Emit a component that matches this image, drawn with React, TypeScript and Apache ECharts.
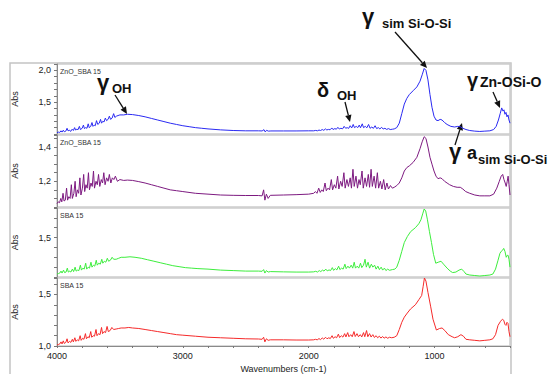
import React, { useEffect, useRef } from "react";
import * as echarts from "echarts";

// ---------- DATA ----------
const PANEL_TITLES = ["ZnO_SBA 15", "ZnO_SBA 15", "SBA 15", "SBA 15"];
const X_TICK_LABELS = [4000, 3000, 2000, 1000];
const Y_TICK_LABELS = [[1.5, 2.0], [1.2, 1.4], [1.5], [1.0, 1.5]];
const X_AXIS_NAME = "Wavenumbers (cm-1)";
const Y_AXIS_NAME = "Abs";

const ZNO_SBA15_BLUE: number[][] = [
  [4000,1.02],[3988,1.03],[3978,1.025],[3968,1.05],[3960,1.03],[3950,1.06],[3942,1.035],[3930,1.045],[3920,1.09],[3912,1.05],
  [3900,1.06],[3892,1.04],[3880,1.075],[3870,1.055],[3860,1.10],[3852,1.06],[3842,1.08],[3834,1.065],[3822,1.12],[3814,1.07],
  [3800,1.09],[3790,1.14],[3782,1.085],[3772,1.10],[3762,1.09],[3752,1.16],[3744,1.10],[3732,1.12],[3722,1.18],[3714,1.12],
  [3704,1.14],[3696,1.13],[3686,1.21],[3676,1.15],[3664,1.17],[3654,1.23],[3646,1.17],[3636,1.20],[3626,1.19],[3616,1.25],
  [3606,1.21],[3594,1.23],[3584,1.28],[3574,1.23],[3562,1.25],[3550,1.32],[3540,1.26],[3528,1.28],[3515,1.29],[3500,1.30],
  [3470,1.30],[3440,1.31],[3400,1.305],
  [3350,1.29],[3300,1.27],[3250,1.245],[3200,1.22],[3150,1.195],[3100,1.17],[3050,1.15],[3000,1.13],[2950,1.115],[2900,1.10],
  [2850,1.09],[2800,1.08],[2700,1.065],[2600,1.055],[2500,1.05],[2400,1.05],[2370,1.048],[2355,1.068],[2345,1.032],[2335,1.058],
  [2320,1.045],[2300,1.048],[2200,1.048],[2100,1.048],[2000,1.05],
  [1960,1.05],[1944,1.056],[1930,1.05],[1918,1.062],[1906,1.055],[1892,1.07],[1880,1.058],[1866,1.08],[1856,1.064],[1842,1.072],
  [1830,1.066],[1816,1.095],[1806,1.07],[1792,1.085],[1780,1.075],[1768,1.105],[1756,1.078],[1744,1.09],[1730,1.082],[1718,1.12],
  [1706,1.09],[1694,1.10],[1682,1.088],[1670,1.13],[1658,1.095],[1646,1.15],[1636,1.10],[1622,1.12],[1610,1.10],[1598,1.14],
  [1588,1.098],[1574,1.16],[1564,1.10],[1550,1.12],[1538,1.097],[1524,1.15],[1512,1.09],[1498,1.11],[1486,1.088],[1472,1.13],
  [1460,1.085],[1446,1.10],[1434,1.08],[1420,1.105],[1408,1.078],[1394,1.09],[1380,1.072],[1366,1.085],[1352,1.07],[1335,1.075],
  [1320,1.08],[1300,1.10],[1280,1.17],[1260,1.32],[1240,1.47],[1220,1.56],[1200,1.62],[1170,1.68],[1140,1.74],[1115,1.83],
  [1098,1.93],[1082,2.03],[1068,2.00],[1052,1.85],[1036,1.62],[1020,1.42],[1004,1.28],[988,1.22],[972,1.21],[955,1.23],
  [940,1.22],[920,1.18],[900,1.15],[870,1.12],[840,1.11],[815,1.12],[795,1.115],[775,1.09],[750,1.07],[720,1.055],
  [680,1.045],[640,1.04],[600,1.045],[560,1.05],[530,1.07],[510,1.12],[492,1.22],[478,1.32],[466,1.41],[456,1.36],
  [448,1.38],[440,1.31],[432,1.34],[424,1.27],[416,1.30],[408,1.22],[400,1.17]
];

const ZNO_SBA15_PURPLE: number[][] = [
  [4000,1.07],[3990,1.08],[3980,1.075],[3970,1.10],[3962,1.08],[3952,1.13],[3944,1.085],[3934,1.09],[3924,1.16],[3916,1.09],
  [3906,1.11],[3896,1.10],[3886,1.18],[3878,1.10],[3866,1.13],[3856,1.20],[3848,1.11],[3838,1.15],[3828,1.13],[3818,1.22],
  [3810,1.12],[3798,1.16],[3788,1.24],[3780,1.14],[3770,1.18],[3760,1.16],[3750,1.25],[3742,1.15],[3730,1.19],[3720,1.17],
  [3710,1.26],[3702,1.16],[3690,1.20],[3680,1.18],[3670,1.24],[3660,1.17],[3648,1.21],[3638,1.19],[3628,1.25],[3618,1.18],
  [3606,1.22],[3594,1.20],[3584,1.24],[3572,1.19],[3560,1.22],[3548,1.21],[3536,1.23],[3520,1.20],[3500,1.21],[3470,1.205],
  [3440,1.207],[3400,1.205],[3350,1.198],[3300,1.19],[3250,1.18],[3200,1.17],[3150,1.16],[3100,1.15],[3050,1.145],[3000,1.14],
  [2900,1.13],[2800,1.125],[2700,1.12],[2600,1.118],[2500,1.117],[2400,1.117],[2370,1.115],[2358,1.15],[2348,1.09],[2336,1.125],
  [2322,1.10],[2305,1.118],[2200,1.12],[2100,1.122],[2000,1.125],
  [1960,1.13],[1946,1.14],[1934,1.13],[1920,1.16],[1908,1.135],[1896,1.15],[1884,1.14],[1870,1.19],[1860,1.145],[1846,1.16],
  [1834,1.15],[1820,1.21],[1810,1.15],[1796,1.18],[1784,1.16],[1770,1.23],[1760,1.155],[1746,1.20],[1734,1.17],[1720,1.25],
  [1710,1.16],[1696,1.21],[1684,1.17],[1670,1.22],[1660,1.16],[1648,1.27],[1638,1.17],[1624,1.23],[1612,1.16],[1600,1.21],
  [1590,1.18],[1576,1.26],[1566,1.16],[1552,1.22],[1540,1.17],[1526,1.24],[1516,1.165],[1504,1.27],[1494,1.17],[1480,1.23],
  [1468,1.16],[1454,1.25],[1444,1.16],[1430,1.20],[1418,1.155],[1404,1.21],[1392,1.15],[1378,1.19],[1366,1.155],[1350,1.175],
  [1335,1.16],
  [1320,1.165],[1300,1.175],[1280,1.19],[1260,1.22],[1240,1.26],[1220,1.28],[1200,1.29],[1170,1.31],[1140,1.34],[1115,1.39],
  [1098,1.43],[1082,1.46],[1068,1.45],[1052,1.40],[1036,1.34],[1020,1.30],[1004,1.26],[988,1.23],[972,1.215],[955,1.22],
  [940,1.215],[920,1.20],[900,1.19],[880,1.18],[850,1.17],[820,1.165],[795,1.165],[775,1.155],[752,1.14],[720,1.13],
  [680,1.12],[640,1.115],[600,1.115],[560,1.115],[530,1.125],[505,1.16],[485,1.20],[470,1.23],[458,1.24],[448,1.21],
  [438,1.19],[430,1.17],[422,1.20],[415,1.23],[408,1.18],[400,1.12]
];

const SBA15_GREEN: number[][] = [
  [4000,1.13],[3988,1.135],[3978,1.14],[3968,1.16],[3960,1.14],[3948,1.17],[3940,1.145],[3928,1.15],[3918,1.19],[3910,1.15],
  [3898,1.16],[3890,1.15],[3878,1.18],[3868,1.155],[3856,1.20],[3848,1.16],[3836,1.17],[3826,1.165],[3814,1.22],[3806,1.17],
  [3794,1.19],[3784,1.18],[3772,1.24],[3764,1.18],[3752,1.20],[3742,1.19],[3730,1.25],[3722,1.20],[3710,1.22],[3700,1.21],
  [3688,1.27],[3680,1.22],[3668,1.24],[3656,1.23],[3644,1.28],[3636,1.24],[3624,1.26],[3612,1.25],[3600,1.29],[3590,1.26],
  [3576,1.27],[3562,1.30],[3550,1.28],[3530,1.28],[3510,1.29],[3490,1.30],[3460,1.30],[3420,1.305],[3380,1.30],
  [3330,1.29],[3280,1.275],[3230,1.26],[3180,1.245],[3130,1.23],[3080,1.215],[3030,1.205],[2980,1.195],[2930,1.19],[2880,1.185],
  [2800,1.18],[2700,1.17],[2600,1.165],[2500,1.16],[2400,1.16],[2370,1.158],[2358,1.175],[2348,1.14],[2336,1.165],[2322,1.15],
  [2305,1.155],[2200,1.152],[2100,1.15],[2000,1.15],
  [1960,1.152],[1944,1.158],[1930,1.15],[1916,1.165],[1904,1.155],[1890,1.17],[1878,1.16],[1864,1.18],[1852,1.162],[1838,1.172],
  [1826,1.165],[1812,1.195],[1802,1.168],[1788,1.185],[1776,1.172],[1762,1.21],[1752,1.175],[1738,1.19],[1726,1.18],[1712,1.23],
  [1702,1.185],[1688,1.21],[1676,1.19],[1662,1.22],[1650,1.19],[1638,1.25],[1628,1.19],[1614,1.21],[1602,1.19],[1588,1.24],
  [1578,1.195],[1564,1.22],[1552,1.28],[1542,1.20],[1528,1.25],[1516,1.19],[1502,1.23],[1490,1.20],[1476,1.22],[1464,1.18],
  [1450,1.21],[1438,1.175],[1424,1.20],[1412,1.17],[1398,1.19],[1386,1.165],[1372,1.18],[1358,1.168],[1335,1.175],
  [1315,1.18],[1300,1.20],[1280,1.27],[1260,1.36],[1240,1.45],[1216,1.51],[1190,1.56],[1152,1.60],[1125,1.64],[1108,1.68],
  [1094,1.74],[1082,1.79],[1070,1.77],[1056,1.68],[1040,1.56],[1024,1.45],[1008,1.33],[990,1.24],[970,1.25],[948,1.26],
  [928,1.23],[900,1.19],[875,1.16],[856,1.145],[830,1.15],[805,1.17],[784,1.18],[765,1.155],[750,1.13],[720,1.12],
  [680,1.115],[640,1.11],[600,1.115],[560,1.12],[536,1.13],[515,1.18],[495,1.27],[480,1.34],[470,1.36],[460,1.37],
  [450,1.39],[440,1.36],[430,1.30],[422,1.32],[415,1.32],[408,1.28],[400,1.20]
];

const SBA15_RED: number[][] = [
  [4000,1.01],[3988,1.015],[3978,1.02],[3968,1.04],[3960,1.02],[3950,1.05],[3942,1.025],[3930,1.035],[3920,1.07],[3912,1.03],
  [3900,1.045],[3890,1.035],[3878,1.065],[3870,1.04],[3858,1.08],[3850,1.045],[3838,1.06],[3828,1.05],[3816,1.10],[3808,1.055],
  [3796,1.075],[3786,1.065],[3774,1.12],[3766,1.07],[3754,1.09],[3744,1.08],[3732,1.14],[3724,1.085],[3712,1.10],[3702,1.095],
  [3690,1.16],[3682,1.10],[3670,1.12],[3658,1.11],[3646,1.18],[3638,1.12],[3626,1.14],[3614,1.13],[3602,1.19],[3592,1.14],
  [3578,1.15],[3564,1.18],[3550,1.16],[3530,1.165],[3510,1.17],[3490,1.175],[3460,1.175],[3430,1.18],[3400,1.175],
  [3350,1.17],[3300,1.16],[3250,1.15],[3200,1.14],[3150,1.13],[3100,1.12],[3050,1.11],[3000,1.105],[2900,1.095],[2800,1.085],
  [2700,1.08],[2600,1.075],[2500,1.07],[2400,1.068],[2370,1.065],[2358,1.085],[2348,1.04],[2336,1.07],[2322,1.055],[2305,1.06],
  [2200,1.06],[2100,1.058],[2000,1.058],
  [1960,1.06],[1946,1.065],[1932,1.06],[1918,1.072],[1906,1.062],[1892,1.078],[1880,1.066],[1866,1.085],[1854,1.07],[1840,1.08],
  [1828,1.072],[1814,1.10],[1804,1.075],[1790,1.09],[1778,1.08],[1764,1.115],[1754,1.082],[1740,1.10],[1728,1.086],[1714,1.12],
  [1704,1.088],[1690,1.13],[1680,1.09],[1666,1.11],[1654,1.09],[1640,1.14],[1630,1.092],[1616,1.12],[1604,1.09],[1590,1.11],
  [1578,1.088],[1564,1.13],[1554,1.09],[1540,1.15],[1530,1.09],[1516,1.12],[1504,1.087],[1490,1.11],[1478,1.083],[1464,1.10],
  [1452,1.08],[1438,1.095],[1426,1.077],[1412,1.092],[1400,1.076],[1386,1.088],[1372,1.075],[1358,1.085],[1340,1.08],
  [1320,1.085],[1300,1.10],[1280,1.16],[1260,1.23],[1240,1.28],[1216,1.32],[1190,1.36],[1152,1.40],[1124,1.45],[1102,1.49],
  [1090,1.58],[1080,1.66],[1068,1.63],[1052,1.52],[1030,1.38],[1012,1.26],[985,1.155],[960,1.17],[940,1.175],[918,1.15],
  [890,1.11],[860,1.09],[840,1.08],[815,1.09],[790,1.11],[770,1.095],[750,1.065],[720,1.06],[680,1.055],[640,1.05],
  [600,1.055],[560,1.06],[536,1.07],[515,1.11],[495,1.20],[475,1.24],[460,1.26],[450,1.25],[440,1.21],[432,1.20],
  [424,1.23],[416,1.22],[408,1.14],[400,1.09]
];

const SERIES_DATA = [ZNO_SBA15_BLUE, ZNO_SBA15_PURPLE, SBA15_GREEN, SBA15_RED];

// ---------- LAYOUT / STYLE ----------
const FONT = '"Liberation Sans", Arial, Helvetica, sans-serif';
const COLORS = ["#2a2af2", "#7d1a80", "#3ded3d", "#f52a2a"];
const PANELS = [
  { top: 64, height: 70, min: 1.0, max: 2.1, interval: 0.1 },
  { top: 135, height: 72, min: 1.05, max: 1.47, interval: 0.05 },
  { top: 208, height: 69, min: 1.1, max: 1.8, interval: 0.1 },
  { top: 278, height: 68, min: 1.0, max: 1.66, interval: 0.1 },
];
const GRID_LEFT = 57;
const GRID_RIGHT = 41;

function arrow(x1: number, y1: number, x2: number, y2: number) {
  const dx = x2 - x1, dy = y2 - y1;
  const len = Math.hypot(dx, dy);
  const ux = dx / len, uy = dy / len;
  const hl = 7, hw = 3.2;
  const bx = x2 - ux * hl, by = y2 - uy * hl;
  return [
    { type: "line", silent: true, shape: { x1, y1, x2: bx, y2: by }, style: { stroke: "#111", lineWidth: 1.3 } },
    {
      type: "polygon", silent: true,
      shape: { points: [[x2, y2], [bx - uy * hw, by + ux * hw], [bx + uy * hw, by - ux * hw]] },
      style: { fill: "#111" },
    },
  ];
}

function txt(text: string, x: number, y: number, size: number, weight = "bold", fill = "#111") {
  return {
    type: "text", x, y, silent: true,
    style: { text, fontSize: size, fontWeight: weight, fontFamily: FONT, fill, align: "left", verticalAlign: "middle" },
  };
}

function buildOption(): any {
  const last = PANELS.length - 1;
  const graphics: any[] = [
    {
      type: "rect", silent: true, z: -1,
      shape: { x: 10, y: 63, width: 501, height: 330 },
      style: { fill: "none", stroke: "#c4c4c4", lineWidth: 1.5 },
    },
    ...PANELS.map((p, i) => txt(PANEL_TITLES[i], 60, p.top + 7.5, 7, "normal", "#333")),
    txt("γ", 97, 82, 22), txt("OH", 112, 88, 13),
    txt("δ", 317, 90, 20), txt("OH", 337, 95, 13),
    txt("γ", 362, 16.5, 22), txt("sim Si-O-Si", 382, 23, 13),
    txt("γ", 467, 80, 20), txt("Zn-OSi-O", 480, 81.5, 14),
    txt("γ", 449, 151.5, 22), txt("a", 467, 153, 18), txt("sim Si-O-Si", 478, 159, 13),
    ...arrow(115, 95, 127, 114),
    ...arrow(345, 102, 350, 122),
    ...arrow(395, 32, 427, 68),
    ...arrow(493, 92, 500, 108),
    ...arrow(455, 145, 462, 123),
  ];

  return {
    animation: false,
    backgroundColor: "#ffffff",
    grid: PANELS.map((p) => ({
      left: GRID_LEFT, right: GRID_RIGHT, top: p.top, height: p.height,
      show: true, borderColor: "#cdcdcd", borderWidth: 1.5, backgroundColor: "transparent",
    })),
    xAxis: PANELS.map((p, i) => {
      const isLast = i === last;
      return {
        type: "value", gridIndex: i, min: 400, max: 4000, interval: 200, inverse: true,
        axisLine: { show: isLast, onZero: false, lineStyle: { color: "#8a8a8a", width: 1 } },
        axisTick: { show: isLast, length: 2, lineStyle: { color: "#777" } },
        axisLabel: {
          show: isLast, margin: 5, fontSize: 9, color: "#222", fontFamily: FONT,
          formatter: (v: number) => (X_TICK_LABELS.indexOf(Math.round(v)) >= 0 ? String(Math.round(v)) : ""),
        },
        splitLine: { show: false },
        name: isLast ? X_AXIS_NAME : "",
        nameLocation: "middle", nameGap: 18,
        nameTextStyle: { fontSize: 9, color: "#222", fontFamily: FONT },
      };
    }),
    yAxis: PANELS.map((p, i) => ({
      type: "value", gridIndex: i, min: p.min, max: p.max, interval: p.interval,
      axisLine: { show: true, lineStyle: { color: "#8a8a8a", width: 1 } },
      axisTick: { show: true, length: 3, lineStyle: { color: "#777" } },
      axisLabel: {
        margin: 6, fontSize: 9, color: "#222", fontFamily: FONT,
        formatter: (v: number) =>
          Y_TICK_LABELS[i].some((t) => Math.abs(t - v) < 1e-6) ? v.toFixed(1).replace(".", ",") : "",
      },
      splitLine: { show: false },
      name: Y_AXIS_NAME, nameLocation: "middle", nameGap: 38, nameRotate: 90,
      nameTextStyle: { fontSize: 9, color: "#222", fontFamily: FONT },
    })),
    series: SERIES_DATA.map((d, i) => ({
      type: "line", xAxisIndex: i, yAxisIndex: i, data: d,
      showSymbol: false, symbol: "none", silent: true, clip: true,
      lineStyle: { color: COLORS[i], width: 1 }, itemStyle: { color: COLORS[i] },
    })),
    graphic: graphics,
  };
}

export default function App() {
  const ref = useRef<HTMLDivElement>(null);
  useEffect(() => {
    if (!ref.current) return;
    const chart = echarts.init(ref.current, null, { renderer: "svg" });
    chart.setOption(buildOption());
    return () => chart.dispose();
  }, []);
  return (
    <div
      ref={ref}
      style={{ position: "fixed", left: 0, top: 0, width: 551, height: 374, background: "#fff" }}
    />
  );
}
